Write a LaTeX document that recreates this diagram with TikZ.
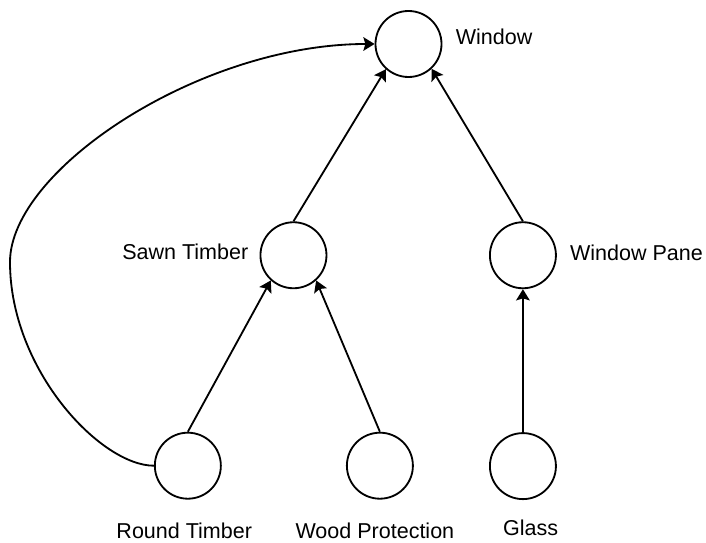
\documentclass[tikz,border=0pt]{standalone}
\usepackage{fontspec}
\setmainfont{Liberation Sans}
\usetikzlibrary{arrows.meta, positioning}
\tikzstyle{part}  = [circle, draw=black, line width=1.3pt, minimum size=1.65cm, inner sep=0pt]
\tikzstyle{tag}   = [inner sep=0pt, font=\fontsize{15.3}{18}\selectfont]
\tikzstyle{arrow} = [line width=1.3pt, -{Stealth[length=0.28cm, width=0.34cm, inset=0.05cm]}]

\begin{document}
\begin{tikzpicture}[x=0.025cm, y=0.025cm]
\useasboundingbox (0,0) rectangle (706,-543);

% parts, one level every 5.28cm
\node (win) [part] at (408.5,-44) {};
\node (sawn) [part, on grid, below left=5.28cm and 2.875cm of win] {};
\node (pane) [part, on grid, below right=5.28cm and 2.86cm of win] {};
\node (rt) [part, on grid, below left=5.26cm and 2.64cm of sawn] {};
\node (wp) [part, on grid, below right=5.26cm and 2.16cm of sawn] {};
\node (gl) [part, on grid, below=5.27cm of pane] {};

% names
\node (winname) [tag, right=0.33cm of win, yshift=0.175cm] {Window};
\node (sawnname) [tag, left=0.275cm of sawn, yshift=0.075cm] {Sawn Timber};
\node (panename) [tag, right=0.325cm of pane, yshift=0.05cm] {Window Pane};
\node (rtname) [tag, below=0.57cm of rt, xshift=-0.09cm] {Round Timber};
\node (wpname) [tag, below=0.57cm of wp, xshift=-0.125cm] {Wood Protection};
\node (glname) [tag, below=0.5cm of gl, xshift=0.19cm] {Glass};

\draw [arrow] (sawn.north) -- (win.228);
\draw [arrow] (pane.north) -- (win.313);
\draw [arrow] (rt.north) -- (sawn.228);
\draw [arrow] (wp.north) -- (sawn.312);
\draw [arrow] (gl.north) -- (pane.south);
% round timber goes straight into the window as well
\coordinate (bend) at (10,-262);
\draw [arrow] (rt.west) .. controls +(-53,0) and +(0,-108) .. (bend)
  .. controls +(0,92) and +(-175,0) .. (win.west);
\end{tikzpicture}
\end{document}
